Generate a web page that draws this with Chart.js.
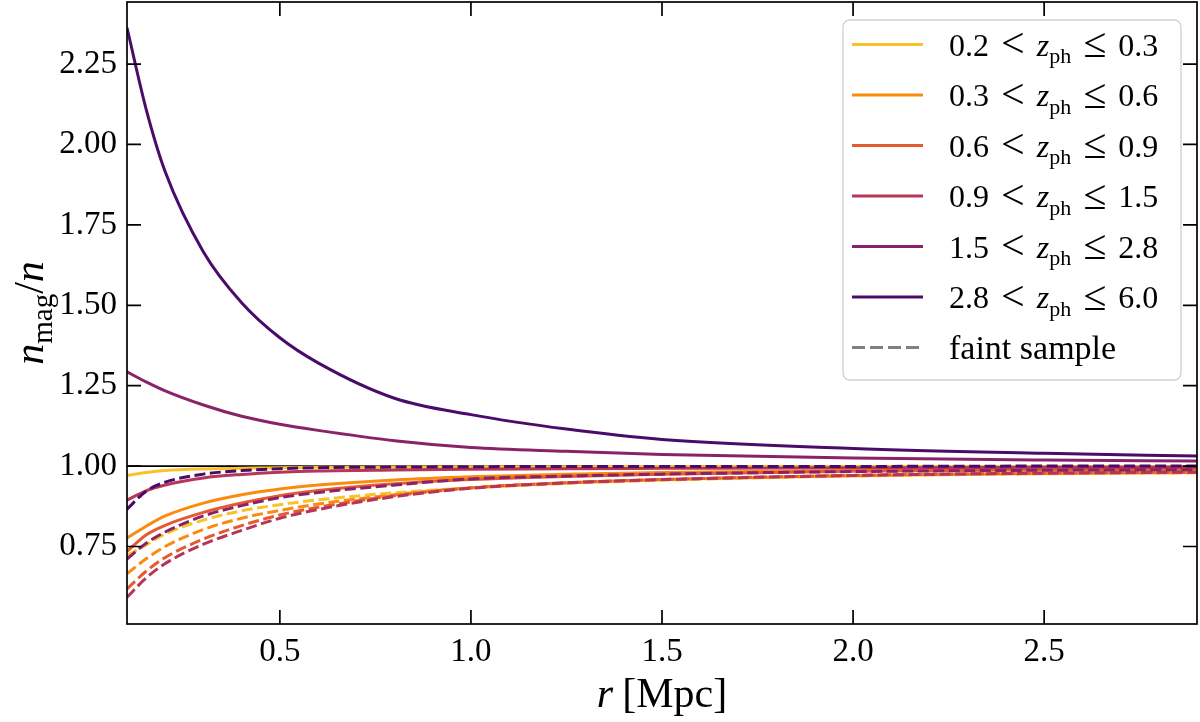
<!DOCTYPE html>
<html>
<head>
<meta charset="utf-8">
<script src="https://cdn.jsdelivr.net/npm/chart.js@4.4.1/dist/chart.umd.min.js"></script>
<style>
  html, body { margin: 0; padding: 0; background: #fff; }
  canvas { display: block; }
</style>
</head>
<body>
<canvas id="chart" width="1200" height="722"></canvas>
<script>
/* ================= DATA ================= */
const rValues = [0.1, 0.15, 0.2, 0.3, 0.4, 0.5, 0.6, 0.8, 1.0, 1.25, 1.5, 2.0, 2.5, 2.9];

const zLow = ["0.2", "0.3", "0.6", "0.9", "1.5", "2.8"];
const zHigh = ["0.3", "0.6", "0.9", "1.5", "2.8", "6.0"];
const binColors = ["#f8c32a", "#fb8b0e", "#e45a31", "#b73557", "#8a226a", "#4a0c6b"];

// full sample (solid)
const full_02_03 = [0.971, 0.980, 0.986, 0.991, 0.993, 0.995, 0.996, 0.997, 0.998, 0.998, 0.999, 0.999, 0.999, 0.999];
const full_03_06 = [0.776, 0.813, 0.845, 0.885, 0.911, 0.929, 0.941, 0.957, 0.967, 0.975, 0.980, 0.986, 0.989, 0.991];
const full_06_09 = [0.735, 0.786, 0.816, 0.856, 0.885, 0.908, 0.924, 0.945, 0.958, 0.968, 0.975, 0.984, 0.988, 0.990];
const full_09_15 = [0.894, 0.923, 0.941, 0.963, 0.974, 0.981, 0.985, 0.988, 0.990, 0.992, 0.993, 0.995, 0.996, 0.997];
const full_15_28 = [1.293, 1.262, 1.234, 1.190, 1.155, 1.130, 1.111, 1.079, 1.058, 1.046, 1.036, 1.025, 1.019, 1.016];
const full_28_60 = [2.363, 2.110, 1.915, 1.666, 1.508, 1.399, 1.321, 1.211, 1.160, 1.115, 1.083, 1.055, 1.040, 1.031];

// faint sample (dashed)
const faint_02_03 = [0.722, 0.755, 0.789, 0.832, 0.861, 0.880, 0.895, 0.917, 0.932, 0.946, 0.956, 0.969, 0.976, 0.979];
const faint_03_06 = [0.665, 0.712, 0.750, 0.803, 0.838, 0.862, 0.882, 0.911, 0.933, 0.948, 0.958, 0.970, 0.977, 0.980];
const faint_06_09 = [0.618, 0.673, 0.716, 0.773, 0.815, 0.848, 0.872, 0.908, 0.932, 0.948, 0.958, 0.971, 0.978, 0.981];
const faint_09_15 = [0.592, 0.652, 0.697, 0.757, 0.800, 0.838, 0.865, 0.905, 0.931, 0.948, 0.958, 0.971, 0.978, 0.981];
const faint_15_28 = [0.711, 0.760, 0.795, 0.845, 0.877, 0.902, 0.918, 0.941, 0.960, 0.969, 0.975, 0.983, 0.987, 0.989];
const faint_28_60 = [0.866, 0.922, 0.950, 0.975, 0.986, 0.992, 0.995, 0.997, 0.998, 0.999, 0.999, 0.999, 1.000, 1.000];

const xLimits = [0.1, 2.9];
const yLimits = [0.509, 2.443];
const unityLevel = 1.0;

const fullSeries = [full_02_03, full_03_06, full_06_09, full_09_15, full_15_28, full_28_60];
const faintSeries = [faint_02_03, faint_03_06, faint_06_09, faint_09_15, faint_15_28, faint_28_60];

/* ================= FONTS ================= */
const SERIF = '"Liberation Serif", "DejaVu Serif", serif';
const TICK_SIZE = 33;
const LABEL_SIZE = 42;
const LEGEND_SIZE = 32;
const TICK_LEN = 14;
const REL_GAP = 4;     // extra math spacing round < and ≤
const REL_SCALE = 1.3; // relation glyphs are drawn a bit larger

/* ================= DATASETS ================= */
function toPoints(vals) {
    return vals.map((v, i) => ({ x: rValues[i], y: v }));
}

const datasets = [];
datasets.push({
    label: "unity",
    data: xLimits.map(x => ({ x: x, y: unityLevel })),
    borderColor: "#000",
    borderWidth: 1.8,
    order: 100
});
fullSeries.forEach((vals, i) => {
    datasets.push({
        label: zLow[i] + " < z_ph ≤ " + zHigh[i],
        data: toPoints(vals),
        borderColor: binColors[i],
        borderWidth: 3,
        cubicInterpolationMode: "monotone",
        order: 50 - i
    });
});
faintSeries.forEach((vals, i) => {
    datasets.push({
        label: "faint " + zLow[i] + "-" + zHigh[i],
        data: toPoints(vals),
        borderColor: binColors[i],
        borderWidth: 3,
        borderDash: [11, 4.5],
        cubicInterpolationMode: "monotone",
        order: 30 - i
    });
});

/* ================= TEXT HELPERS ================= */
// parts: [text, style, scale, dy, gapAfter]
function mathWidth(ctx, parts, size) {
    let w = 0;
    parts.forEach(p => {
        ctx.font = (p[1] || "") + " " + Math.round(size * (p[2] || 1)) + "px " + SERIF;
        w += ctx.measureText(p[0]).width + (p[4] || 0);
    });
    return w;
}

function drawMath(ctx, parts, x, y, size) {
    let cx = x;
    parts.forEach(p => {
        ctx.font = (p[1] || "") + " " + Math.round(size * (p[2] || 1)) + "px " + SERIF;
        ctx.fillText(p[0], cx, y + (p[3] || 0) * size);
        cx += ctx.measureText(p[0]).width + (p[4] || 0);
    });
}

/* ================= FRAME, TICKS, TITLES, LEGEND ================= */
const decorations = {
    id: "decorations",
    afterDatasetsDraw(chart) {
        const { ctx, chartArea: a, scales: { x, y } } = chart;
        ctx.save();

        // frame + inward ticks
        ctx.strokeStyle = "#000";
        ctx.lineWidth = 1.7;
        ctx.strokeRect(a.left, a.top, a.right - a.left, a.bottom - a.top);
        ctx.beginPath();
        x.ticks.forEach(t => {
            const px = x.getPixelForValue(t.value);
            ctx.moveTo(px, a.bottom); ctx.lineTo(px, a.bottom - TICK_LEN);
            ctx.moveTo(px, a.top); ctx.lineTo(px, a.top + TICK_LEN);
        });
        y.ticks.forEach(t => {
            const py = y.getPixelForValue(t.value);
            ctx.moveTo(a.left, py); ctx.lineTo(a.left + TICK_LEN, py);
            ctx.moveTo(a.right, py); ctx.lineTo(a.right - TICK_LEN, py);
        });
        ctx.stroke();

        ctx.fillStyle = "#000";
        ctx.textBaseline = "alphabetic";

        // x title: r [Mpc]
        const xParts = [["r", "italic", 1, 0, 9], ["[Mpc]", ""]];
        const xw = mathWidth(ctx, xParts, LABEL_SIZE);
        drawMath(ctx, xParts, (a.left + a.right) / 2 - xw / 2, 707, LABEL_SIZE);

        // y title: n_mag / n
        const yParts = [["n", "italic"], ["mag", "", 0.7, 0.22], ["/", ""], ["n", "italic"]];
        const yw = mathWidth(ctx, yParts, LABEL_SIZE);
        ctx.save();
        ctx.translate(43, (a.top + a.bottom) / 2);
        ctx.rotate(-Math.PI / 2);
        drawMath(ctx, yParts, -yw / 2, 0, LABEL_SIZE);
        ctx.restore();

        // legend
        const lx = 843, ly = 20, lw = 338, lh = 360;
        ctx.beginPath();
        ctx.roundRect(lx, ly, lw, lh, 7);
        ctx.fillStyle = "rgba(255,255,255,0.85)";
        ctx.fill();
        ctx.strokeStyle = "#d0d0d0";
        ctx.lineWidth = 1.3;
        ctx.stroke();

        const rowY = i => 44.5 + i * 50.5;
        ctx.lineWidth = 2.8;
        zLow.forEach((lo, i) => {
            const yy = rowY(i);
            ctx.strokeStyle = binColors[i];
            ctx.setLineDash([]);
            ctx.beginPath();
            ctx.moveTo(852, yy); ctx.lineTo(923, yy);
            ctx.stroke();
            ctx.fillStyle = "#000";
            drawMath(ctx, [
                [lo + " ", "", 1, 0, REL_GAP],
                ["<", "", REL_SCALE, 0.06],
                [" ", "", 1, 0, REL_GAP],
                ["z", "italic"],
                ["ph", "", 0.7, 0.24],
                [" ", "", 1, 0, REL_GAP],
                ["≤", "", REL_SCALE, 0.06],
                [" ", "", 1, 0, REL_GAP],
                [zHigh[i], ""]
            ], 949, yy + 11, LEGEND_SIZE);
        });
        const fy = rowY(6);
        ctx.strokeStyle = "#808080";
        ctx.setLineDash([13, 5]);
        ctx.beginPath();
        ctx.moveTo(852, fy); ctx.lineTo(923, fy);
        ctx.stroke();
        ctx.setLineDash([]);
        ctx.fillStyle = "#000";
        drawMath(ctx, [["faint sample", ""]], 949, fy + 11, LEGEND_SIZE + 2);

        ctx.restore();
    }
};

/* ================= CHART ================= */
new Chart(document.getElementById("chart"), {
    type: "line",
    data: { datasets: datasets },
    options: {
        responsive: false,
        animation: false,
        devicePixelRatio: 1,
        layout: { padding: { top: 2, right: 3, left: 0, bottom: 0 } },
        elements: { point: { radius: 0 } },
        plugins: { legend: { display: false }, tooltip: { enabled: false } },
        scales: {
            x: {
                type: "linear",
                min: xLimits[0],
                max: xLimits[1],
                grid: { display: false, drawTicks: false },
                border: { display: false },
                ticks: {
                    stepSize: 0.5,
                    includeBounds: false,
                    color: "#000",
                    padding: 9,
                    maxRotation: 0,
                    font: { family: SERIF, size: TICK_SIZE },
                    callback: v => v.toFixed(1)
                },
                afterFit: s => {
                    s.height = 98;
                    s.paddingLeft = 0;
                    s.paddingRight = 0;
                }
            },
            y: {
                type: "linear",
                min: yLimits[0],
                max: yLimits[1],
                grid: { display: false, drawTicks: false },
                border: { display: false },
                ticks: {
                    stepSize: 0.25,
                    includeBounds: false,
                    color: "#000",
                    padding: 10,
                    font: { family: SERIF, size: TICK_SIZE },
                    callback: v => v.toFixed(2)
                },
                afterFit: s => {
                    s.width = 127;
                    s.paddingTop = 0;
                    s.paddingBottom = 0;
                }
            }
        }
    },
    plugins: [decorations]
});
</script>
</body>
</html>
